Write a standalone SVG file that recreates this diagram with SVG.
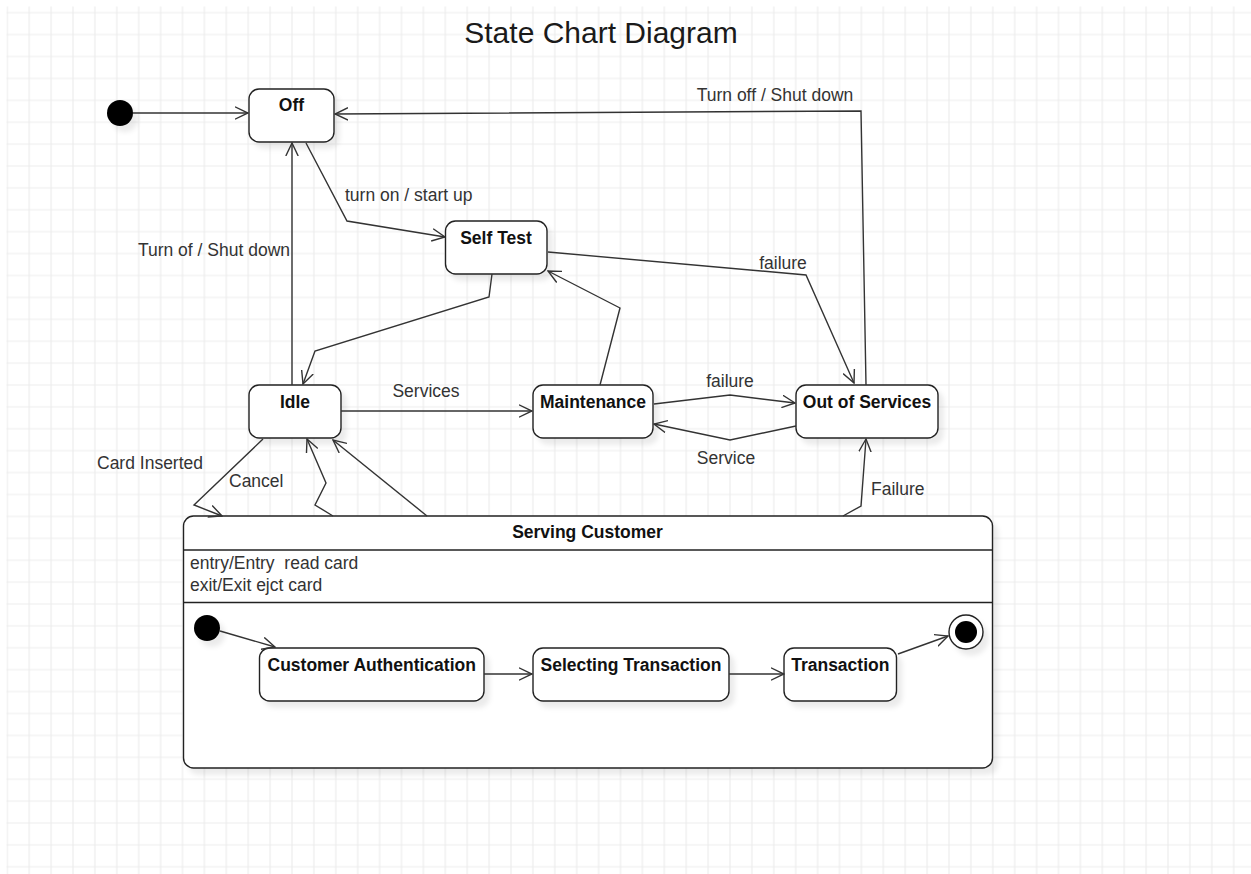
<svg xmlns="http://www.w3.org/2000/svg" width="1251" height="874" viewBox="0 0 1251 874">
<style>
.node{fill:#fff;stroke:#222;stroke-width:1.4;filter:url(#sh)}
.nt{font-family:"Liberation Sans",Arial,sans-serif;font-size:17.5px;font-weight:bold;fill:#111;text-anchor:middle}
.lb{font-family:"Liberation Sans",Arial,sans-serif;font-size:17.5px;fill:#333}
.ed{fill:none;stroke:#333;stroke-width:1.4;marker-end:url(#ar)}
.ln{fill:none;stroke:#222;stroke-width:1.4}
</style>
<defs>
<pattern id="grid" patternUnits="userSpaceOnUse" x="6.3" y="11.7" width="21.9" height="21.9">
<path d="M1,0 V21.9 M0,1 H21.9" stroke="#ededed" stroke-width="1.2" fill="none"/>
</pattern>
<filter id="sh" x="-20%" y="-20%" width="150%" height="160%">
<feDropShadow dx="5" dy="6" stdDeviation="2.5" flood-color="#000" flood-opacity="0.08"/>
</filter>
<marker id="ar" viewBox="0 0 14 14" markerWidth="14" markerHeight="14" refX="13" refY="7" orient="auto" markerUnits="userSpaceOnUse">
<path d="M0,0.8 L13,7 L0,13.2" fill="none" stroke="#333" stroke-width="1.4"/>
</marker>
</defs>
<rect width="1251" height="874" fill="#fff"/>
<rect x="6.5" y="6.5" width="1244.5" height="867.5" fill="url(#grid)"/>
<text x="601" y="43" font-family="Liberation Sans,Arial,sans-serif" font-size="30" fill="#1a1a1a" text-anchor="middle">State Chart Diagram</text>

<g id="initial">
<circle cx="120" cy="113" r="13" fill="#000" filter="url(#sh)"/>
</g>
<g id="off">
<rect class="node" x="249" y="89" width="85" height="53" rx="10"/>
<text class="nt" x="291.5" y="111">Off</text>
</g>
<g id="self-test">
<rect class="node" x="445.5" y="221" width="101.5" height="53" rx="10"/>
<text class="nt" x="496" y="244">Self Test</text>
</g>
<g id="idle">
<rect class="node" x="249" y="385" width="92" height="53" rx="10"/>
<text class="nt" x="295" y="408">Idle</text>
</g>
<g id="maintenance">
<rect class="node" x="533" y="385" width="120" height="53" rx="10"/>
<text class="nt" x="593" y="408">Maintenance</text>
</g>
<g id="out-of-services">
<rect class="node" x="796" y="385" width="142" height="53" rx="10"/>
<text class="nt" x="867" y="408">Out of Services</text>
</g>

<g id="serving-customer">
<rect class="node" x="183.5" y="516" width="809" height="252" rx="10"/>
<line class="ln" x1="183.5" y1="550" x2="992.5" y2="550"/>
<line class="ln" x1="183.5" y1="602.5" x2="992.5" y2="602.5"/>
<text class="nt" x="587.5" y="538">Serving Customer</text>
<text class="lb" x="190" y="569" xml:space="preserve">entry/Entry  read card</text>
<text class="lb" x="190" y="591">exit/Exit ejct card</text>
</g>
<g id="inner-initial">
<circle cx="207" cy="628" r="13" fill="#000" filter="url(#sh)"/>
</g>
<g id="customer-authentication">
<rect class="node" x="259.5" y="648" width="224.5" height="53" rx="10"/>
<text class="nt" x="371.7" y="670.5">Customer Authentication</text>
</g>
<g id="selecting-transaction">
<rect class="node" x="533" y="648" width="196" height="53" rx="10"/>
<text class="nt" x="631" y="670.5">Selecting Transaction</text>
</g>
<g id="transaction">
<rect class="node" x="784" y="648" width="112.5" height="53" rx="10"/>
<text class="nt" x="840.3" y="670.5">Transaction</text>
</g>
<g id="final">
<circle cx="966" cy="632" r="17" fill="#fff" stroke="#222" stroke-width="1.4" filter="url(#sh)"/>
<circle cx="966" cy="632" r="11" fill="#000"/>
</g>

<g id="connectors">
<polyline class="ed" points="133,113 248,113"/>
<polyline class="ed" points="306,143 347,221 445,237"/>
<polyline class="ed" points="292,385 292,143"/>
<polyline class="ed" points="492,274 489,297 315,351 303,384"/>
<polyline class="ed" points="866,385 861,111 335,114"/>
<polyline class="ed" points="548,252 806,275 854,383"/>
<polyline class="ed" points="600,385 620,308 548,271"/>
<polyline class="ed" points="341,411 532,411"/>
<polyline class="ed" points="654,404 730,395 795,403"/>
<polyline class="ed" points="796,426 730,440 654,424"/>
<polyline class="ed" points="843,516 861,506 866,439"/>
<polyline class="ed" points="263,439 194,505 222,516"/>
<polyline class="ed" points="333,516 315,505 326,483 307,439"/>
<polyline class="ed" points="427,516 333,440"/>
<polyline class="ed" points="220,631 275,647"/>
<polyline class="ed" points="484,674 532,674"/>
<polyline class="ed" points="729,674 784,674"/>
<polyline class="ed" points="898,654 948,636"/>
<text class="lb" x="345" y="201">turn on / start up</text>
<text class="lb" x="290" y="256" text-anchor="end">Turn of / Shut down</text>
<text class="lb" x="775" y="101" text-anchor="middle">Turn off / Shut down</text>
<text class="lb" x="783" y="269" text-anchor="middle">failure</text>
<text class="lb" x="426" y="397" text-anchor="middle">Services</text>
<text class="lb" x="730" y="387" text-anchor="middle">failure</text>
<text class="lb" x="726" y="464" text-anchor="middle">Service</text>
<text class="lb" x="871" y="495">Failure</text>
<text class="lb" x="97" y="469">Card Inserted</text>
<text class="lb" x="229" y="487">Cancel</text>
</g>
</svg>
